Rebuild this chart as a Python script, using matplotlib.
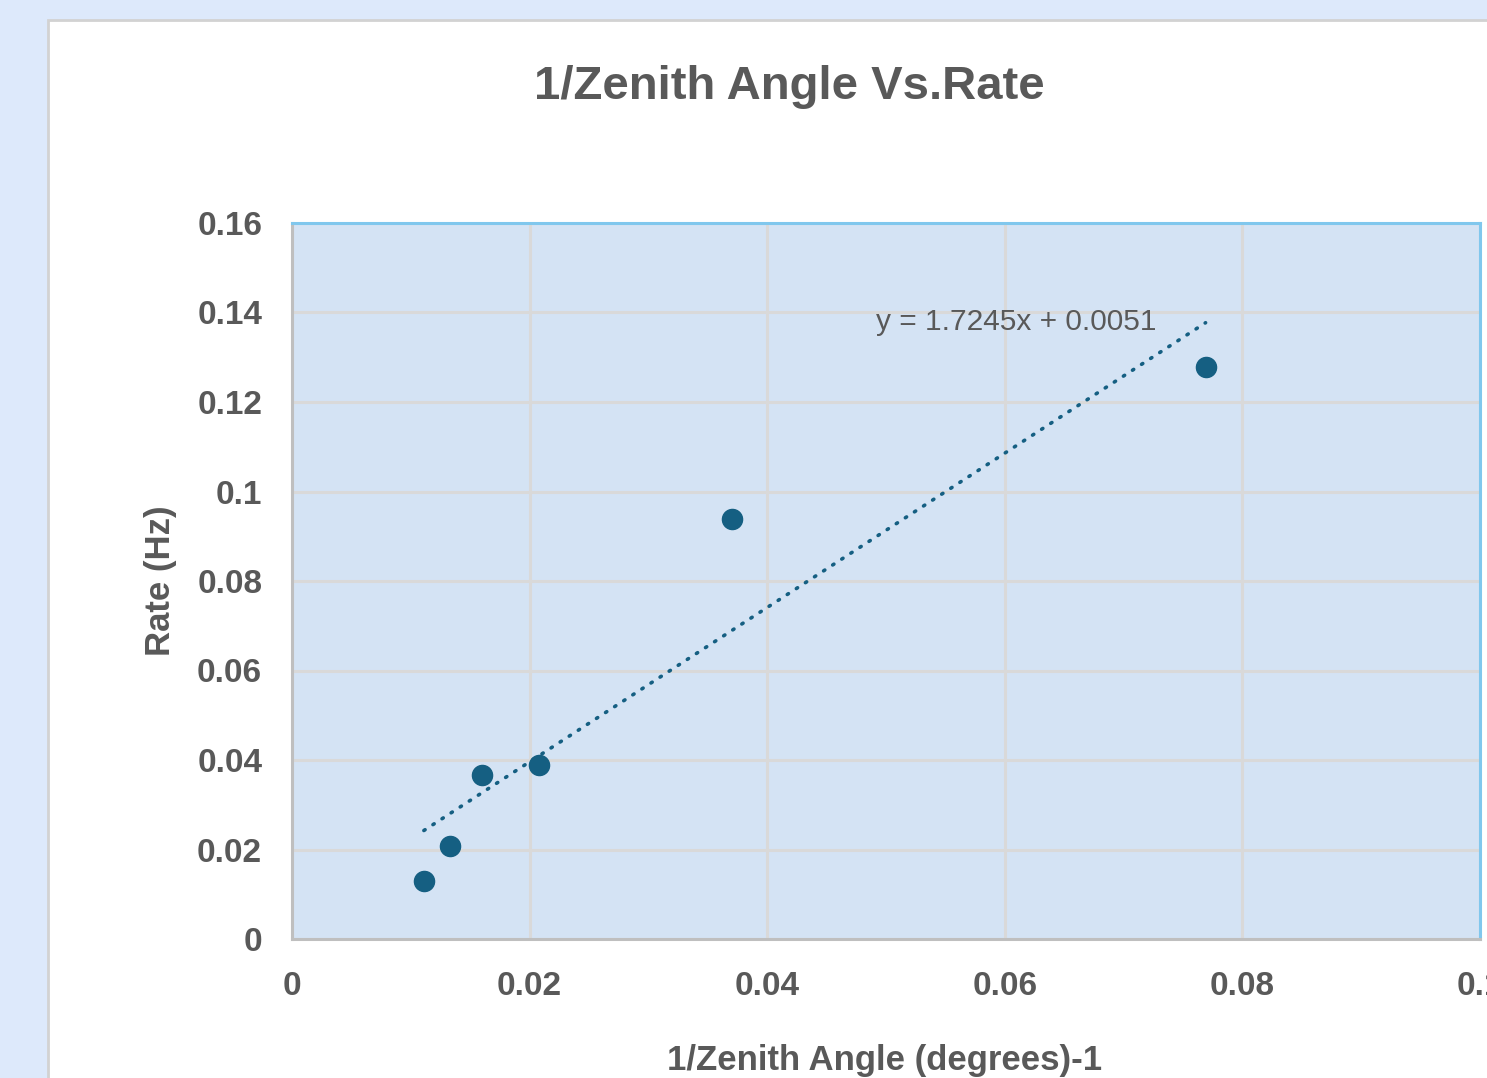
import numpy as np
import matplotlib.pyplot as plt
from matplotlib.patches import Rectangle

# data
inv_zenith = [0.0111, 0.0133, 0.0160, 0.0208, 0.0370, 0.0769]
rate_hz = [0.0129, 0.0208, 0.0367, 0.0389, 0.0939, 0.1278]
slope = 1.7245
intercept = 0.0051

x_ticks = [0, 0.02, 0.04, 0.06, 0.08, 0.1]
x_labels = ["0", "0.02", "0.04", "0.06", "0.08", "0.1"]
y_ticks = [0, 0.02, 0.04, 0.06, 0.08, 0.1, 0.12, 0.14, 0.16]
y_labels = ["0", "0.02", "0.04", "0.06", "0.08", "0.1", "0.12", "0.14", "0.16"]

grey = "#595959"
dot = "#155f82"

fig = plt.figure(figsize=(14.87, 10.78), dpi=100)
fig.patch.set_facecolor("#dde9fb")

# white chart box, runs off the right and bottom edges
fig.patches.append(Rectangle((48 / 1487, -0.1), 1.2, 0.1 + 1 - 20 / 1078,
                             transform=fig.transFigure, facecolor="white",
                             edgecolor="#d2d2d2", linewidth=2, zorder=-5))

ax = fig.add_axes([292 / 1487, 1 - 939 / 1078, 1188 / 1487, 716 / 1078])
ax.set_zorder(2)
ax.set_facecolor("#d4e3f4")

ax.set_xlim(0, 0.1)
ax.set_ylim(0, 0.16)
ax.set_xticks(x_ticks)
ax.set_xticklabels(x_labels)
ax.set_yticks(y_ticks)
ax.set_yticklabels(y_labels)
ax.grid(True, color="#d9d9d9", linewidth=2.2)
ax.set_axisbelow(True)

tick_font = {"family": "Liberation Sans", "weight": "bold", "size": 25}
for lab in ax.get_xticklabels() + ax.get_yticklabels():
    lab.set_fontfamily("Liberation Sans")
    lab.set_fontweight("bold")
    lab.set_fontsize(24)
    lab.set_color(grey)
ax.tick_params(axis="x", length=0, pad=23)
ax.tick_params(axis="y", length=0, pad=21.5)

for side in ["left", "bottom"]:
    ax.spines[side].set_color("#bfbfbf")
    ax.spines[side].set_linewidth(2.2)
for side in ["top", "right"]:
    ax.spines[side].set_color("#80c7ed")
    ax.spines[side].set_linewidth(2.2)

# linear trendline over the data range
xs = np.array([min(inv_zenith), max(inv_zenith)])
ax.plot(xs, slope * xs + intercept, color=dot, linewidth=2.6,
        linestyle=(0, (0.4, 2.6)), dash_capstyle="round", zorder=2)
ax.scatter(inv_zenith, rate_hz, s=210, color=dot, zorder=3)

ax.text(0.0492, 0.1379, "y = 1.7245x + 0.0051", fontsize=21.5,
        family="Liberation Sans", color=grey, va="center", ha="left")

ax.set_ylabel("Rate (Hz)", fontdict=tick_font, color=grey)
ax.yaxis.label.set_va("center")
ax.yaxis.set_label_coords(-0.111, 0.5)
ax.set_xlabel("1/Zenith Angle (degrees)-1", fontdict=tick_font, color=grey)
ax.xaxis.set_label_coords(0.499, -0.146)

fig.text(789 / 1487, 1 - 87 / 1078, "1/Zenith Angle Vs.Rate", ha="center",
         va="center", fontsize=34, fontweight="bold",
         family="Liberation Sans", color=grey)

fig.savefig("out.png", dpi=100, facecolor=fig.get_facecolor())
